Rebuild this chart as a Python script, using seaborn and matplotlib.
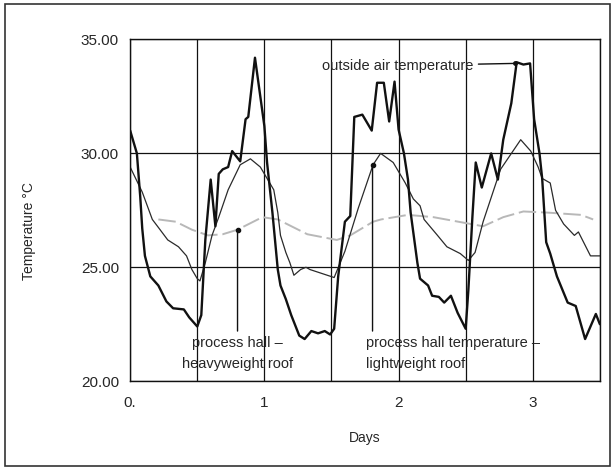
import numpy as np
import pandas as pd
import seaborn as sns
import matplotlib.pyplot as plt
from matplotlib.patches import Rectangle
from matplotlib.ticker import MultipleLocator, FixedLocator, FixedFormatter

# outside air temperature (thick black)
out_days = [0, 0.05, 0.075, 0.09, 0.11, 0.15, 0.21, 0.27, 0.32, 0.40, 0.44, 0.50, 0.53, 0.54,
            0.56, 0.60, 0.635, 0.66, 0.69, 0.73, 0.76, 0.82, 0.86, 0.88, 0.93, 1.0, 1.02, 1.06,
            1.10, 1.12, 1.16, 1.20, 1.26, 1.30, 1.35, 1.40, 1.45, 1.49, 1.52, 1.55, 1.60, 1.64,
            1.67, 1.73, 1.80, 1.84, 1.89, 1.93, 1.97, 2.0, 2.04, 2.07, 2.09, 2.14, 2.16, 2.22,
            2.25, 2.30, 2.34, 2.39, 2.44, 2.50, 2.52, 2.55, 2.575, 2.62, 2.69, 2.74, 2.78, 2.84,
            2.88, 2.93, 2.98, 3.01, 3.05, 3.07, 3.10, 3.13, 3.18, 3.26, 3.32, 3.39, 3.47, 3.5]
out_temp = [31.0, 30.0, 28.1, 26.7, 25.5, 24.6, 24.2, 23.5, 23.2, 23.15, 22.8, 22.4, 22.9, 24.0,
            26.2, 28.85, 26.8, 29.1, 29.3, 29.4, 30.1, 29.65, 31.5, 31.6, 34.2, 31.2, 29.6, 27.4,
            24.9, 24.2, 23.6, 22.9, 22.0, 21.85, 22.2, 22.1, 22.2, 22.05, 22.3, 24.6, 27.0, 27.25,
            31.6, 31.7, 31.0, 33.1, 33.1, 31.4, 33.15, 31.05, 30.0, 28.85, 27.4, 25.2, 24.5, 24.2,
            23.75, 23.7, 23.45, 23.75, 23.0, 22.3, 24.0, 27.2, 29.6, 28.5, 30.0, 28.85, 30.6, 32.2,
            34.0, 33.9, 33.95, 31.5, 30.0, 28.9, 26.1, 25.6, 24.6, 23.45, 23.3, 21.85, 22.95, 22.5]

# process hall - lightweight roof (thin dark)
light_days = [0, 0.09, 0.165, 0.21, 0.28, 0.36, 0.42, 0.46, 0.5, 0.52, 0.56, 0.61, 0.66, 0.73,
              0.82, 0.896, 0.97, 1.07, 1.10, 1.12, 1.16, 1.19, 1.22, 1.27, 1.31, 1.34, 1.52, 1.6,
              1.7, 1.81, 1.866, 1.96, 2.05, 2.11, 2.16, 2.19, 2.29, 2.36, 2.46, 2.52, 2.57, 2.63,
              2.76, 2.91, 2.985, 3.04, 3.07, 3.13, 3.17, 3.23, 3.31, 3.34, 3.43, 3.49, 3.5]
light_temp = [29.4, 28.3, 27.1, 26.75, 26.2, 25.9, 25.5, 24.9, 24.5, 24.4, 25.2, 26.4, 27.2, 28.4,
              29.5, 29.76, 29.4, 28.4, 27.4, 26.4, 25.65, 25.2, 24.65, 24.9, 25.0, 24.9, 24.55, 25.7,
              27.6, 29.5, 30.0, 29.6, 28.7, 28.0, 27.7, 27.1, 26.4, 25.9, 25.6, 25.3, 25.65, 27.0,
              29.3, 30.6, 30.1, 29.4, 28.9, 28.7, 27.5, 26.9, 26.4, 26.55, 25.5, 25.5, 25.5]

# process hall - heavyweight roof (light grey)
heavy_days = [0.21, 0.34, 0.46, 0.58, 0.69, 0.8, 0.985, 1.10, 1.32, 1.54, 1.64, 1.81, 1.87, 2.07,
              2.26, 2.45, 2.63, 2.78, 2.93, 3.11, 3.36, 3.45]
heavy_temp = [27.1, 27.0, 26.65, 26.4, 26.45, 26.65, 27.2, 27.1, 26.45, 26.2, 26.4, 27.0, 27.1, 27.3,
              27.2, np.nan, 26.8, 27.2, 27.45, 27.4, 27.3, 27.1]

x_ticks = [0, 0.5, 1, 1.5, 2, 2.5, 3, 3.5]
x_labels = ['0.', '', '1', '', '2', '', '3', '']
y_ticks = [20, 25, 30, 35]
y_labels = ['20.00', '25.00', '30.00', '35.00']

sns.set_style("white")
fonts = ['Liberation Sans Narrow', 'Liberation Sans', 'DejaVu Sans']
plt.rcParams['font.family'] = fonts

fig = plt.figure(figsize=(6.14, 4.70), dpi=100)
ax = fig.add_axes([0.212, 0.189, 0.765, 0.727])

out_df = pd.DataFrame({'day': out_days, 'temp': out_temp})
light_df = pd.DataFrame({'day': light_days, 'temp': light_temp})
heavy_df = pd.DataFrame({'day': heavy_days, 'temp': heavy_temp})

sns.lineplot(data=heavy_df, x='day', y='temp', ax=ax, color='#b8b8b8', lw=1.4,
             estimator=None, sort=False)
ax.lines[-1].set_dashes((9, 2.5))
sns.lineplot(data=light_df, x='day', y='temp', ax=ax, color='#2a2a2a', lw=0.9,
             estimator=None, sort=False)
sns.lineplot(data=out_df, x='day', y='temp', ax=ax, color='#111111', lw=1.7,
             estimator=None, sort=False)

ax.set_xlim(0, 3.5)
ax.set_ylim(20, 35)
ax.xaxis.set_major_locator(FixedLocator(x_ticks))
ax.xaxis.set_major_formatter(FixedFormatter(x_labels))
ax.yaxis.set_major_locator(FixedLocator(y_ticks))
ax.yaxis.set_major_formatter(FixedFormatter(y_labels))
ax.yaxis.set_minor_locator(MultipleLocator(1))
ax.tick_params(axis='x', direction='out', length=8, width=1, color='#111', labelsize=11, pad=3)
ax.tick_params(axis='y', which='major', direction='out', length=7, width=1, color='#111',
               labelsize=11, pad=1)
ax.tick_params(axis='y', which='minor', direction='out', length=4, width=0.8, color='#111')
ax.grid(True, which='major', color='#111111', lw=0.9)
for s in ax.spines.values():
    s.set_color('#111111')
    s.set_linewidth(1.0)

ax.set_xlabel('Days', fontsize=10)
ax.set_ylabel('Temperature °C', fontsize=10)
ax.xaxis.set_label_coords(0.5, -0.145)
ax.yaxis.set_label_coords(-0.2, 0.44)

# annotations
ax.annotate('outside air temperature', xy=(2.87, 33.95), xytext=(2.56, 33.85),
            ha='right', va='center', fontsize=10.5,
            arrowprops=dict(arrowstyle='-', color='#111', lw=1, shrinkA=1, shrinkB=0))
ax.plot([2.87], [33.95], 'o', color='#111', ms=2.5)

ax.annotate('', xy=(0.8, 26.65), xytext=(0.8, 22.2),
            arrowprops=dict(arrowstyle='-', color='#111', lw=1, shrinkA=0, shrinkB=0))
ax.plot([0.8], [26.65], 'o', color='#111', ms=3)
ax.text(0.8, 21.22, 'process hall –\nheavyweight roof', ha='center', va='center',
        fontsize=10.5, linespacing=1.65)

ax.annotate('', xy=(1.806, 29.5), xytext=(1.806, 22.2),
            arrowprops=dict(arrowstyle='-', color='#111', lw=1, shrinkA=0, shrinkB=0))
ax.plot([1.806], [29.5], 'o', color='#111', ms=3)
ax.text(1.76, 21.22, 'process hall temperature –\nlightweight roof', ha='left', va='center',
        fontsize=10.5, linespacing=1.65)

fig.patches.append(Rectangle((0.008, 0.008), 0.986, 0.983, transform=fig.transFigure,
                             fill=False, lw=1.2, ec='#333333'))

fig.savefig('out.png', dpi=100)
